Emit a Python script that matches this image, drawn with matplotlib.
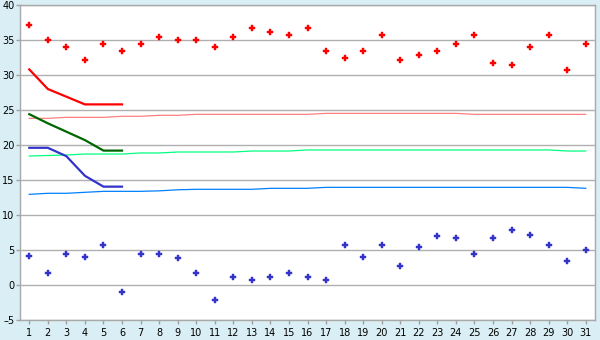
import matplotlib
matplotlib.use("Agg")
import matplotlib.pyplot as plt

# ---- data ----
days = list(range(1, 32))

red_pts = [37.2, 35.0, 34.0, 32.2, 34.4, 33.4, 34.4, 35.4, 35.0, 35.0,
           34.0, 35.4, 36.7, 36.1, 35.7, 36.7, 33.4, 32.4, 33.4, 35.7,
           32.2, 32.8, 33.4, 34.4, 35.7, 31.7, 31.4, 34.0, 35.7, 30.7, 34.4]
blue_pts = [4.2, 1.7, 4.4, 4.0, 5.7, -1.0, 4.4, 4.4, 3.8, 1.7,
            -2.2, 1.1, 0.7, 1.1, 1.7, 1.1, 0.7, 5.7, 4.0, 5.7,
            2.7, 5.5, 7.0, 6.7, 4.4, 6.7, 7.8, 7.1, 5.7, 3.4, 5.0]

# short 6-day forecast lines
fc_days = [1, 2, 3, 4, 5, 6]
red_fc = [30.8, 28.0, 26.9, 25.8, 25.8, 25.8]
green_fc = [24.4, 23.1, 21.9, 20.7, 19.2, 19.2]
blue_fc = [19.6, 19.6, 18.4, 15.6, 14.05, 14.05]

# long-term reference lines
pink_ref = [23.81, 23.81, 23.95, 23.95, 23.95, 24.1, 24.1, 24.24, 24.24, 24.38,
            24.38, 24.38, 24.38, 24.38, 24.38, 24.38, 24.52, 24.52, 24.52, 24.52,
            24.52, 24.52, 24.52, 24.52, 24.38, 24.38, 24.38, 24.38, 24.38, 24.38, 24.38]
green_ref = [18.43, 18.5, 18.57, 18.71, 18.71, 18.71, 18.86, 18.86, 19.0, 19.0,
             19.0, 19.0, 19.14, 19.14, 19.14, 19.29, 19.29, 19.29, 19.29, 19.29,
             19.29, 19.29, 19.29, 19.29, 19.29, 19.29, 19.29, 19.29, 19.29, 19.14, 19.14]
blue_ref = [12.95, 13.1, 13.1, 13.24, 13.38, 13.38, 13.38, 13.45, 13.6, 13.67,
            13.67, 13.67, 13.67, 13.81, 13.81, 13.81, 13.95, 13.95, 13.95, 13.95,
            13.95, 13.95, 13.95, 13.95, 13.95, 13.95, 13.95, 13.95, 13.95, 13.95, 13.81]

yticks = list(range(-5, 41, 5))

# ---- figure ----
bg = "#D9EFF5"
fig = plt.figure(figsize=(6, 3.4), dpi=100, facecolor=bg)
ax = fig.add_axes([20 / 600, 20 / 340, 575 / 600, 315 / 340])
ax.set_facecolor("white")

ax.plot(days, pink_ref, color="#FF8080", lw=0.9)
ax.plot(days, green_ref, color="#00FF80", lw=0.9)
ax.plot(days, blue_ref, color="#0080FF", lw=0.9)

ax.plot(fc_days, red_fc, color="#FF0000", lw=1.6)
ax.plot(fc_days, green_fc, color="#006600", lw=1.6)
ax.plot(fc_days, blue_fc, color="#3333CC", lw=1.6)

ax.plot(days, red_pts, ls="none", marker="P", ms=4.2, color="#FF0000", mec="#FF0000", mew=0.3)
ax.plot(days, blue_pts, ls="none", marker="P", ms=4.2, color="#3333CC", mec="#3333CC", mew=0.3)

ax.set_xlim(0.5, 31.5)
ax.set_ylim(-5, 40)
ax.set_xticks(days)
ax.set_yticks(yticks)
ax.set_yticklabels([str(v).replace("-", "\u2013") for v in yticks])
ax.grid(axis="y", color="#B0B0B0", lw=1)
ax.set_axisbelow(True)

for s in ax.spines.values():
    s.set_color("#A8A8A8")
    s.set_linewidth(1)

ax.tick_params(axis="both", labelsize=7, colors="#A0A0A0", labelcolor="black",
               length=3, width=1)
ax.tick_params(axis="y", pad=1)
ax.tick_params(axis="x", pad=3)

fig.savefig("out.png", dpi=100, facecolor=bg)
